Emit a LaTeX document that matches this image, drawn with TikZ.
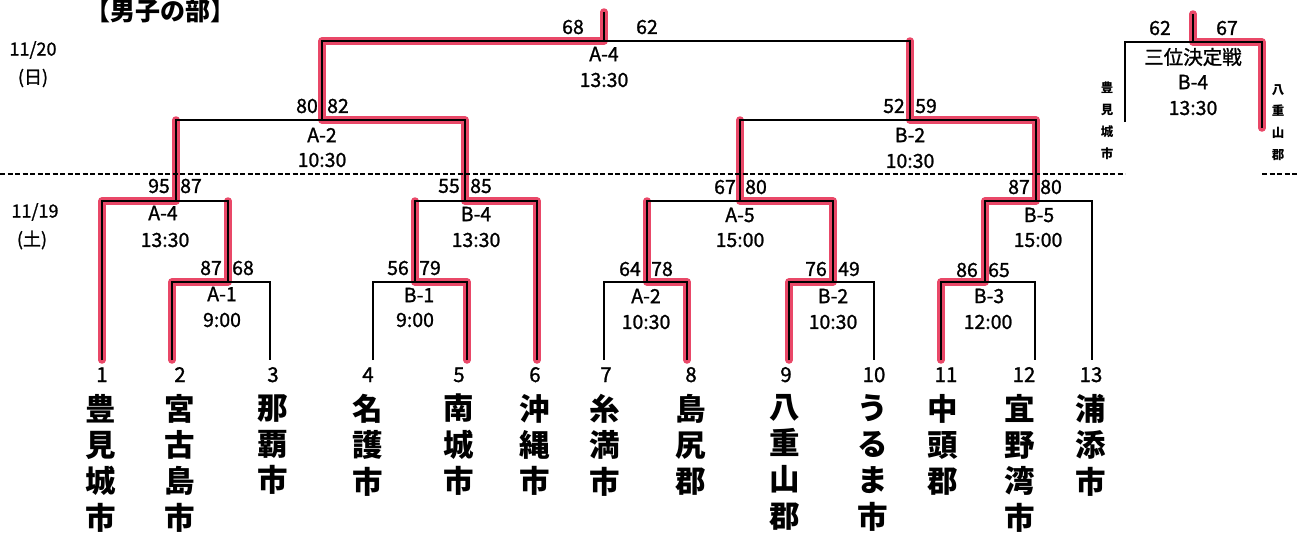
\documentclass[tikz,border=0pt]{standalone}
\usepackage{fontspec}
\setmainfont{Noto Sans CJK JP}
\newfontfamily\lblfont{Noto Sans CJK JP}[FakeBold=1.2]
\definecolor{hl}{RGB}{233,72,104}
\begin{document}
\begin{tikzpicture}[x=1pt,y=-1pt,
  bline/.style={line width=1.7pt,black,line join=miter},
  wline/.style={line width=2.6pt,black,line join=round},
  hlpath/.style={line width=7.5pt,hl,line cap=round,line join=round},
  lbl/.style={font=\lblfont\fontsize{19.5}{19.5}\selectfont,inner sep=0pt},
  datelbl/.style={font=\lblfont\fontsize{18}{18}\selectfont,inner sep=0pt},
  num/.style={font=\lblfont\fontsize{20.5}{20.5}\selectfont,inner sep=0pt,anchor=base},
  team/.style={font=\bfseries\fontsize{30.5}{36.3}\selectfont,align=center,inner sep=0pt,anchor=north},
  smallteam/.style={font=\bfseries\fontsize{12.5}{21.8}\selectfont,align=center,inner sep=0pt,anchor=north},
  dline/.style={line width=1.2pt,dash pattern=on 5pt off 2.5pt}]
\useasboundingbox (0,0) rectangle (1300,533);
% leaves
\foreach \n/\x in {1/102,2/172,3/270,4/373,5/467,6/537,7/604,8/687,9/789,10/874,11/941,12/1035,13/1092}
  \coordinate (L\n) at (\x,360);
% match points
\coordinate (mA1) at (228,282);
\coordinate (mA4) at (176,201);
\coordinate (mB1) at (415,282);
\coordinate (mB4) at (465,201);
\coordinate (mSA) at (322,120);
\coordinate (mA2) at (647,282);
\coordinate (mB2) at (833,282);
\coordinate (mA5) at (740,201);
\coordinate (mB3) at (985,282);
\coordinate (mB5) at (1036,201);
\coordinate (mSB) at (910,120);
\coordinate (mF) at (604,41);
\coordinate (top) at (604,12);
\coordinate (tL) at (1125,122);
\coordinate (tR) at (1262,128);
\coordinate (tC) at (1193,42);
\coordinate (tTop) at (1193,14);
% red highlight (winners)
\draw[hlpath] (L1) |- (mA4) -- (mA4 |- mSA);
\draw[hlpath] (L2) |- (mA1) -- (mA1 |- mA4);
\draw[hlpath] (L5) |- (mB1) -- (mB1 |- mB4);
\draw[hlpath] (L6) |- (mB4) -- (mB4 |- mSA) -- (mSA) -- (mSA |- mF) -- (mF) -- (top);
\draw[hlpath] (L8) |- (mA2) -- (mA2 |- mA5);
\draw[hlpath] (L9) |- (mB2) -- (mB2 |- mA5) -- (mA5) -- (mA5 |- mSB);
\draw[hlpath] (L11) |- (mB3) -- (mB3 |- mB5) -- (mB5) -- (mB5 |- mSB) -- (mSB) -- (mSB |- mF);
\draw[hlpath] (tR) |- (tC) -- (tTop);
% bracket lines
\draw[bline] (L2) |- (mA1) -| (L3);
\draw[bline] (L1) |- (mA4) -| (mA1);
\draw[bline] (L4) |- (mB1) -| (L5);
\draw[bline] (mB1) |- (mB4) -| (L6);
\draw[bline] (mA4) |- (mSA) -| (mB4);
\draw[bline] (L7) |- (mA2) -| (L8);
\draw[bline] (L9) |- (mB2) -| (L10);
\draw[bline] (mA2) |- (mA5) -| (mB2);
\draw[bline] (L11) |- (mB3) -| (L12);
\draw[bline] (mB3) |- (mB5) -| (L13);
\draw[bline] (mA5) |- (mSB) -| (mB5);
\draw[bline] (mSA) |- (mF) -| (mSB);
\draw[bline] (mF) -- (top);
\draw[bline] (tL) |- (tC) -| (tR);
\draw[bline] (tC) -- (tTop);
% winner black overlay
\draw[wline] (L1) |- (mA4) -- (mA4 |- mSA);
\draw[wline] (L2) |- (mA1) -- (mA1 |- mA4);
\draw[wline] (L5) |- (mB1) -- (mB1 |- mB4);
\draw[wline] (L6) |- (mB4) -- (mB4 |- mSA) -- (mSA) -- (mSA |- mF) -- (mF) -- (top);
\draw[wline] (L8) |- (mA2) -- (mA2 |- mA5);
\draw[wline] (L9) |- (mB2) -- (mB2 |- mA5) -- (mA5) -- (mA5 |- mSB);
\draw[wline] (L11) |- (mB3) -- (mB3 |- mB5) -- (mB5) -- (mB5 |- mSB) -- (mSB) -- (mSB |- mF);
\draw[wline] (tR) |- (tC) -- (tTop);
% dashed day separator
\coordinate (d0) at (0,174); \coordinate (d1) at (1125,174);
\coordinate (d2) at (1262,174); \coordinate (d3) at (1297,174);
\draw[dline] (d0) -- (d1);
\draw[dline] (d2) -- (d3);
% title and dates
\node[font=\bfseries\fontsize{25}{25}\selectfont,inner sep=0pt] (title) at (160,11) {【男子の部】};
\node[datelbl] (d20) at (33,50) {11/20};
\node[datelbl] (d20w) at (33,78) {(日)};
\node[datelbl] (d19) at (35,212) {11/19};
\node[datelbl] (d19w) at (32,240) {(土)};
% final
\node[lbl] (sF1) at (573,27) {68};
\node[lbl] (sF2) at (647,27) {62};
\node[lbl] (iF) at (604,54) {A-4};
\node[lbl] (tFt) at (604,80) {13:30};
% semi A
\node[lbl] (sSA1) at (307,106) {80};
\node[lbl] (sSA2) at (338,106) {82};
\node[lbl] (iSA) at (322,135) {A-2};
\node[lbl] (tSA) at (322,160) {10:30};
% semi B
\node[lbl] (sSB1) at (894,106) {52};
\node[lbl] (sSB2) at (926,106) {59};
\node[lbl] (iSB) at (910,135) {B-2};
\node[lbl] (tSB) at (910,161) {10:30};
% third place
\node[lbl] (s31) at (1160,28) {62};
\node[lbl] (s32) at (1227,28) {67};
\node[lbl] (i3) at (1193,57) {三位決定戦};
\node[lbl] (i3b) at (1193,82) {B-4};
\node[lbl] (t3) at (1193,108) {13:30};
\node[smallteam] (n3l) at (1107,82) {豊\\見\\城\\市};
\node[smallteam] (n3r) at (1278,84) {八\\重\\山\\郡};
% A-4 (11/19)
\node[lbl] (sA41) at (159,186) {95};
\node[lbl] (sA42) at (191,186) {87};
\node[lbl] (iA4) at (163,213) {A-4};
\node[lbl] (tA4) at (165,240) {13:30};
% A-1
\node[lbl] (sA11) at (211,268) {87};
\node[lbl] (sA12) at (243,268) {68};
\node[lbl] (iA1) at (222,294) {A-1};
\node[lbl] (tA1) at (222,320) {9:00};
% B-4
\node[lbl] (sB41) at (449,186) {55};
\node[lbl] (sB42) at (481,186) {85};
\node[lbl] (iB4) at (476,214) {B-4};
\node[lbl] (tB4) at (476,240) {13:30};
% B-1
\node[lbl] (sB11) at (398,268) {56};
\node[lbl] (sB12) at (430,268) {79};
\node[lbl] (iB1) at (419,295) {B-1};
\node[lbl] (tB1) at (415,320) {9:00};
% A-5
\node[lbl] (sA51) at (725,187) {67};
\node[lbl] (sA52) at (756,187) {80};
\node[lbl] (iA5) at (740,215) {A-5};
\node[lbl] (tA5) at (740,240) {15:00};
% A-2 (round 1)
\node[lbl] (sA21) at (630,269) {64};
\node[lbl] (sA22) at (662,269) {78};
\node[lbl] (iA2) at (646,296) {A-2};
\node[lbl] (tA2) at (646,322) {10:30};
% B-2 (round 1)
\node[lbl] (sB21) at (816,269) {76};
\node[lbl] (sB22) at (849,269) {49};
\node[lbl] (iB2) at (833,296) {B-2};
\node[lbl] (tB2) at (833,322) {10:30};
% B-5
\node[lbl] (sB51) at (1019,187) {87};
\node[lbl] (sB52) at (1051,187) {80};
\node[lbl] (iB5) at (1039,215) {B-5};
\node[lbl] (tB5) at (1038,240) {15:00};
% B-3
\node[lbl] (sB31) at (967,270) {86};
\node[lbl] (sB32) at (999,270) {65};
\node[lbl] (iB3) at (989,296) {B-3};
\node[lbl] (tB3) at (988,322) {12:00};
% numbers
\foreach \n/\x in {1/102,2/180,3/273,4/368,5/459,6/535,7/606,8/691,9/786,10/874,11/946,12/1024,13/1091}
  \node[num] (num\n) at (\x,382) {\n};
% team names
\node[team] (t1) at (101,394) {豊\\見\\城\\市};
\node[team] (t2) at (180,394) {宮\\古\\島\\市};
\node[team] (t3) at (273,394) {那\\覇\\市};
\node[team] (t4) at (368,394) {名\\護\\市};
\node[team] (t5) at (459,394) {南\\城\\市};
\node[team] (t6) at (535,394) {沖\\縄\\市};
\node[team] (t7) at (605,394) {糸\\満\\市};
\node[team] (t8) at (691,394) {島\\尻\\郡};
\node[team] (t9) at (785,394) {八\\重\\山\\郡};
\node[team] (t10) at (873,394) {う\\る\\ま\\市};
\node[team] (t11) at (943,394) {中\\頭\\郡};
\node[team] (t12) at (1020,394) {宜\\野\\湾\\市};
\node[team] (t13) at (1091,394) {浦\\添\\市};
\end{tikzpicture}
\end{document}
